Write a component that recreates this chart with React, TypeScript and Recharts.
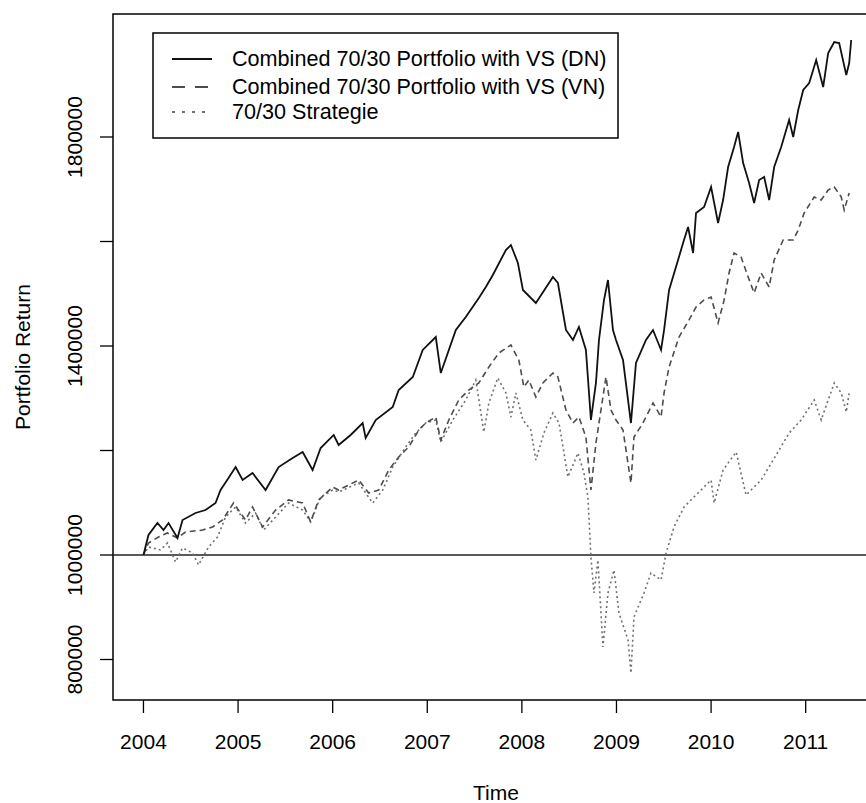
import {
  LineChart,
  Line,
  XAxis,
  YAxis,
  ReferenceLine,
  ReferenceArea,
} from "recharts";

// Combined 70/30 Portfolio with VS (DN)
const dnYear = [
  2004.0, 2004.053, 2004.148, 2004.212, 2004.265, 2004.36, 2004.413, 2004.55, 2004.656, 2004.762,
  2004.815, 2004.899, 2004.974, 2005.048, 2005.153, 2005.291, 2005.429, 2005.577, 2005.683, 2005.788,
  2005.873, 2006.011, 2006.063, 2006.19, 2006.317, 2006.349, 2006.455, 2006.635, 2006.698, 2006.847,
  2006.952, 2007.09, 2007.143, 2007.302, 2007.407, 2007.545, 2007.619, 2007.693, 2007.831, 2007.884,
  2007.958, 2008.011, 2008.148, 2008.328, 2008.381, 2008.466, 2008.54, 2008.603, 2008.677, 2008.73,
  2008.783, 2008.815, 2008.868, 2008.91, 2008.963, 2008.995, 2009.069, 2009.153, 2009.206, 2009.312,
  2009.386, 2009.471, 2009.503, 2009.556, 2009.651, 2009.704, 2009.757, 2009.81, 2009.841, 2009.926,
  2010.0, 2010.074, 2010.127, 2010.18, 2010.243, 2010.286, 2010.339, 2010.402, 2010.455, 2010.508,
  2010.561, 2010.614, 2010.667, 2010.741, 2010.825, 2010.868, 2010.921, 2010.974, 2011.037, 2011.111,
  2011.185, 2011.238, 2011.302, 2011.354, 2011.429, 2011.46, 2011.481,
];
const dnValue = [
  1000000, 1038300, 1061200, 1047800, 1061200, 1032500, 1067000, 1080400, 1086100, 1099500,
  1124400, 1147400, 1168400, 1143500, 1156900, 1124400, 1168400, 1185600, 1197100, 1162700,
  1204800, 1229700, 1210500, 1229700, 1252600, 1223900, 1258400, 1283300, 1315800, 1340700,
  1392400, 1417200, 1348300, 1430600, 1455500, 1491900, 1512900, 1535900, 1583700, 1593300,
  1558900, 1507200, 1482300, 1532100, 1520600, 1430600, 1411500, 1436400, 1392400, 1258400,
  1329200, 1411500, 1488000, 1526300, 1430600, 1411500, 1373200, 1252600, 1367500, 1411500,
  1430600, 1392400, 1430600, 1507200, 1564600, 1597100, 1627800, 1578000, 1654600, 1666000,
  1704300, 1635400, 1679400, 1742600, 1780900, 1809600, 1750200, 1712000, 1673700, 1717700,
  1723500, 1679400, 1742600, 1780900, 1832500, 1800000, 1851700, 1890000, 1903400, 1947400,
  1895700, 1960800, 1981800, 1979900, 1918700, 1941600, 1985700,
];

// Combined 70/30 Portfolio with VS (VN)
const vnYear = [
  2004.0, 2004.053, 2004.159, 2004.254, 2004.36, 2004.444, 2004.624, 2004.73, 2004.836, 2004.952,
  2005.079, 2005.153, 2005.259, 2005.397, 2005.534, 2005.683, 2005.767, 2005.852, 2006.0, 2006.063,
  2006.275, 2006.381, 2006.487, 2006.593, 2006.698, 2006.804, 2006.91, 2006.984, 2007.09, 2007.143,
  2007.228, 2007.333, 2007.439, 2007.545, 2007.651, 2007.757, 2007.884, 2007.968, 2008.021, 2008.074,
  2008.148, 2008.222, 2008.328, 2008.381, 2008.466, 2008.54, 2008.603, 2008.677, 2008.73, 2008.783,
  2008.836, 2008.889, 2008.942, 2008.995, 2009.069, 2009.153, 2009.185, 2009.28, 2009.386, 2009.471,
  2009.503, 2009.556, 2009.661, 2009.767, 2009.841, 2009.926, 2010.0, 2010.074, 2010.138, 2010.19,
  2010.243, 2010.317, 2010.392, 2010.455, 2010.529, 2010.614, 2010.667, 2010.762, 2010.868, 2010.921,
  2010.984, 2011.09, 2011.164, 2011.238, 2011.302, 2011.376, 2011.407, 2011.46,
];
const vnValue = [
  1000000, 1023000, 1034500, 1042100, 1032500, 1044000, 1047800, 1053600, 1067000, 1099500,
  1067000, 1091900, 1053600, 1086100, 1105300, 1099500, 1063200, 1105300, 1130100, 1124400,
  1143500, 1118700, 1124400, 1162700, 1187600, 1206700, 1239200, 1252600, 1264100, 1220100,
  1258400, 1296700, 1315800, 1329200, 1359800, 1386600, 1401900, 1373200, 1321500, 1334900,
  1302400, 1329200, 1348300, 1340700, 1277500, 1252600, 1264100, 1225800, 1124400, 1214400,
  1277500, 1340700, 1277500, 1258400, 1239200, 1137800, 1225800, 1252600, 1290900, 1264100,
  1310100, 1359800, 1417200, 1449800, 1474600, 1488000, 1493800, 1444000, 1488000, 1539700,
  1578000, 1570300, 1532100, 1501400, 1539700, 1512900, 1564600, 1602900, 1602900, 1622000,
  1654600, 1685200, 1679400, 1698600, 1704300, 1685200, 1660300, 1692800,
];

// 70/30 Strategie
const stYear = [
  2004.0, 2004.053, 2004.18, 2004.254, 2004.339, 2004.413, 2004.519, 2004.582, 2004.688, 2004.783,
  2004.868, 2004.974, 2005.079, 2005.185, 2005.27, 2005.397, 2005.534, 2005.683, 2005.767, 2005.873,
  2006.0, 2006.063, 2006.275, 2006.423, 2006.529, 2006.635, 2006.772, 2006.878, 2006.984, 2007.09,
  2007.143, 2007.27, 2007.407, 2007.513, 2007.598, 2007.651, 2007.746, 2007.831, 2007.884, 2007.937,
  2008.011, 2008.095, 2008.148, 2008.233, 2008.328, 2008.392, 2008.487, 2008.593, 2008.656, 2008.698,
  2008.73, 2008.762, 2008.804, 2008.857, 2008.91, 2008.974, 2009.026, 2009.122, 2009.153, 2009.185,
  2009.291, 2009.365, 2009.471, 2009.524, 2009.608, 2009.714, 2009.862, 2010.0, 2010.032, 2010.127,
  2010.265, 2010.37, 2010.529, 2010.688, 2010.825, 2010.952, 2011.09, 2011.164, 2011.238, 2011.302,
  2011.376, 2011.429, 2011.46,
];
const stValue = [
  1000000, 1015300, 1009600, 1023000, 986600, 1013400, 1003800, 980900, 1015300, 1034500,
  1072700, 1091900, 1061200, 1080400, 1047800, 1072700, 1099500, 1086100, 1063200, 1111000,
  1124400, 1120600, 1137800, 1099500, 1124400, 1168400, 1206700, 1233500, 1252600, 1258400,
  1216300, 1258400, 1296700, 1334900, 1235400, 1290900, 1338800, 1310100, 1264100, 1310100,
  1258400, 1239200, 1181800, 1233500, 1271800, 1252600, 1149300, 1195200, 1156900, 1111000,
  996200, 927300, 990400, 823900, 927300, 971300, 889000, 837300, 774200, 881300,
  927300, 965600, 952200, 1003800, 1053600, 1091900, 1118700, 1143500, 1099500, 1162700,
  1197100, 1114800, 1143500, 1191400, 1233500, 1258400, 1296700, 1258400, 1296700, 1329200,
  1310100, 1273700, 1310100,
];

const yearTicks = [2004, 2005, 2006, 2007, 2008, 2009, 2010, 2011];
const valueTicks = [800000, 1000000, 1200000, 1400000, 1600000, 1800000];
const labelledValues = [800000, 1000000, 1400000, 1800000];

const xDomain = [2003.678, 2011.775];
const yDomain = [722500, 2035400];

const dnData = dnYear.map((t, i) => ({ t, v: dnValue[i] }));
const vnData = vnYear.map((t, i) => ({ t, v: vnValue[i] }));
const stData = stYear.map((t, i) => ({ t, v: stValue[i] }));

const font = '"Liberation Sans", Arial, sans-serif';

const XTick = (props: any) => (
  <text x={props.x} y={749} textAnchor="middle" fontSize={21} fill="#000">
    {props.payload.value}
  </text>
);

const YTick = (props: any) => {
  const v = props.payload.value;
  if (!labelledValues.includes(v)) return <g />;
  return (
    <text
      x={82}
      y={props.y}
      textAnchor="middle"
      fontSize={21}
      fill="#000"
      transform={`rotate(-90, 82, ${props.y})`}
    >
      {v}
    </text>
  );
};

export default function App() {
  return (
    <div
      style={{
        position: "absolute",
        left: 0,
        top: 0,
        width: 866,
        height: 803,
        overflow: "hidden",
        background: "#fff",
        fontFamily: font,
      }}
    >
      <LineChart width={900} height={803} margin={{ top: 14, right: 21, bottom: 0, left: 0 }}>
        <XAxis
          type="number"
          dataKey="t"
          domain={xDomain}
          ticks={yearTicks}
          allowDataOverflow
          height={103}
          tickSize={13}
          tickLine={{ stroke: "#000", strokeWidth: 1.3 }}
          axisLine={false}
          tick={XTick}
        />
        <YAxis
          type="number"
          domain={yDomain}
          ticks={valueTicks}
          allowDataOverflow
          width={113}
          tickSize={13}
          tickLine={{ stroke: "#000", strokeWidth: 1.3 }}
          axisLine={false}
          tick={YTick}
        />
        <ReferenceArea
          x1={xDomain[0]}
          x2={xDomain[1]}
          y1={yDomain[0]}
          y2={yDomain[1]}
          fill="none"
          stroke="#000"
          strokeWidth={1.5}
        />
        <ReferenceLine y={1000000} stroke="#222" strokeWidth={1.5} />
        <Line
          data={stData}
          dataKey="v"
          name="70/30 Strategie"
          type="linear"
          dot={false}
          stroke="#707070"
          strokeWidth={1.6}
          strokeDasharray="2 3"
          isAnimationActive={false}
        />
        <Line
          data={vnData}
          dataKey="v"
          name="Combined 70/30 Portfolio with VS (VN)"
          type="linear"
          dot={false}
          stroke="#4d4d4d"
          strokeWidth={1.6}
          strokeDasharray="6 4"
          isAnimationActive={false}
        />
        <Line
          data={dnData}
          dataKey="v"
          name="Combined 70/30 Portfolio with VS (DN)"
          type="linear"
          dot={false}
          stroke="#111"
          strokeWidth={1.8}
          isAnimationActive={false}
        />
      </LineChart>
      <svg
        width={866}
        height={803}
        style={{ position: "absolute", left: 0, top: 0, pointerEvents: "none" }}
      >
        <rect x={153} y={33} width={465} height={105} fill="#fff" stroke="#000" strokeWidth={1.5} />
        <line x1={172} x2={212} y1={59} y2={59} stroke="#111" strokeWidth={2} />
        <line x1={172} x2={212} y1={87} y2={87} stroke="#4d4d4d" strokeWidth={2} strokeDasharray="13 10" />
        <line x1={172} x2={212} y1={112} y2={112} stroke="#707070" strokeWidth={2} strokeDasharray="3 7" />
        <text x={232} y={66} fontSize={21.6} fill="#000">Combined 70/30 Portfolio with VS (DN)</text>
        <text x={232} y={94} fontSize={21.6} fill="#000">Combined 70/30 Portfolio with VS (VN)</text>
        <text x={232} y={119} fontSize={21.6} fill="#000">70/30 Strategie</text>
        <text x={496} y={800} textAnchor="middle" fontSize={21} fill="#000">Time</text>
        <text
          x={30}
          y={357}
          textAnchor="middle"
          fontSize={21}
          fill="#000"
          transform="rotate(-90, 30, 357)"
        >
          Portfolio Return
        </text>
      </svg>
    </div>
  );
}
